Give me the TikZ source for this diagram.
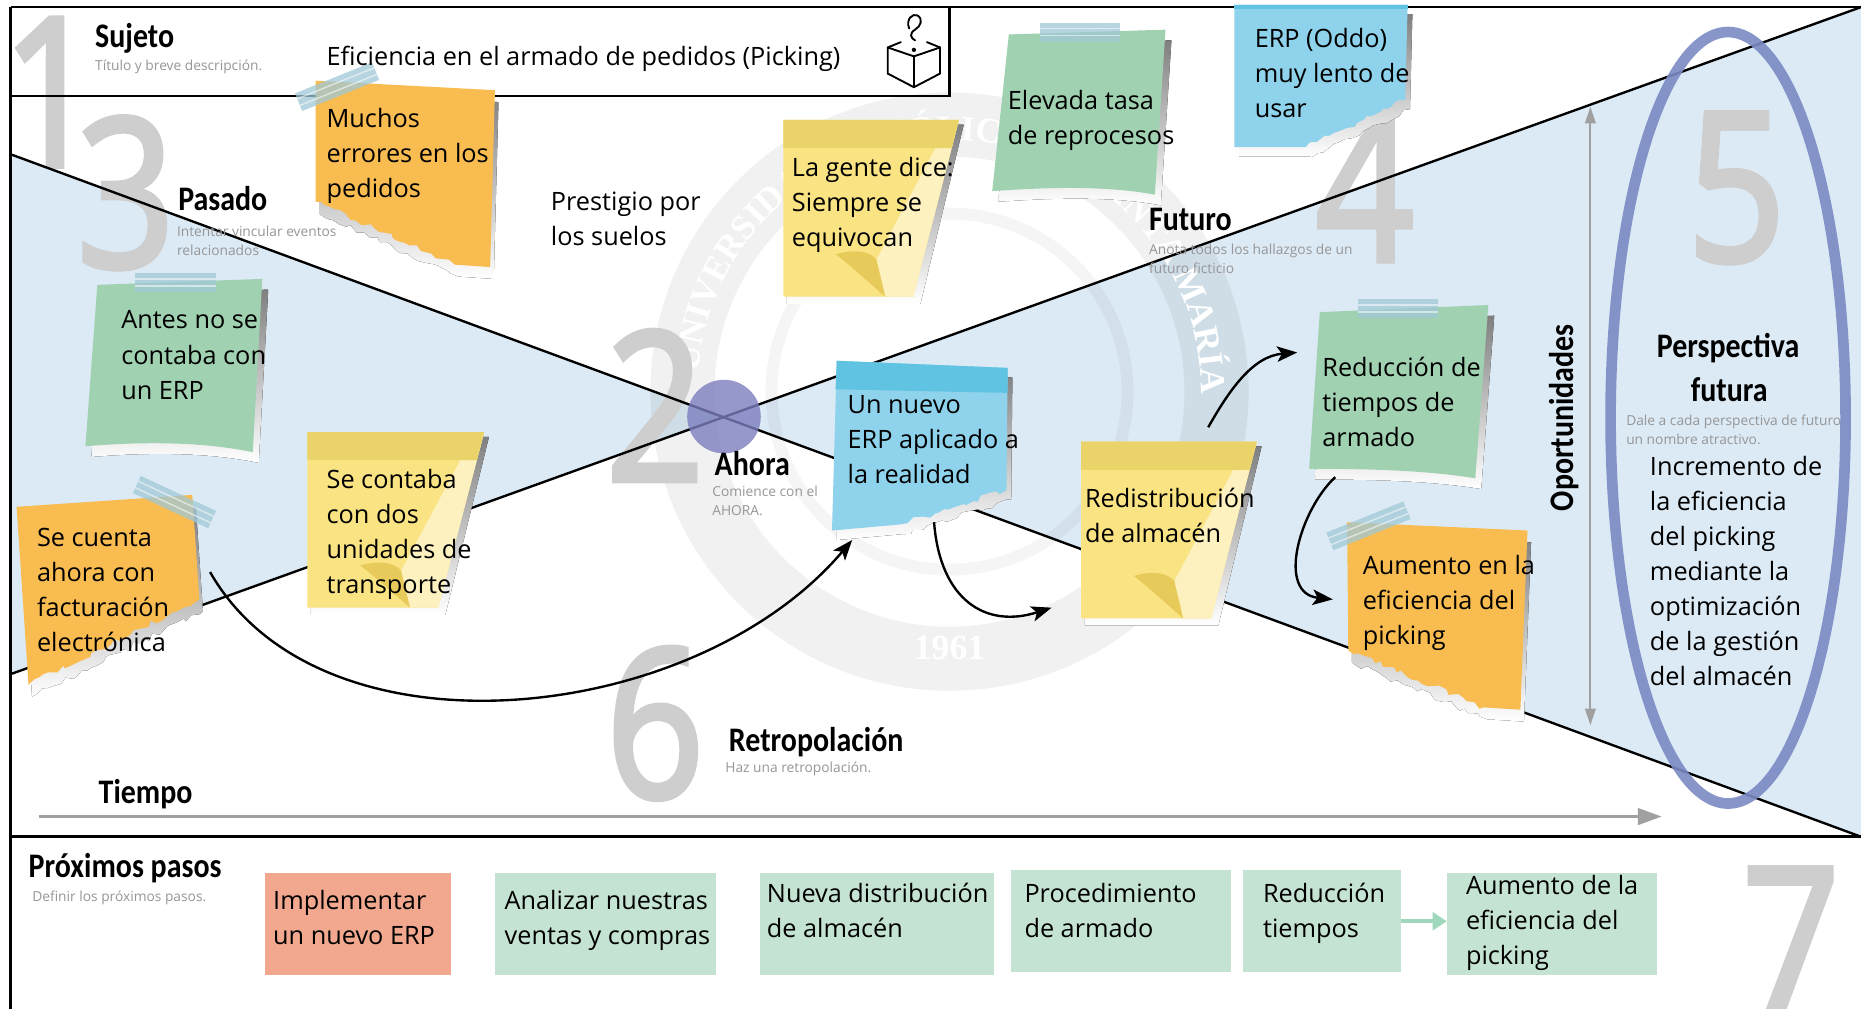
\documentclass[tikz,border=0pt]{standalone}
\usepackage{fontspec}
\setmainfont{Open Sans}
\newfontfamily\headfamily[FakeStretch=0.87]{Carlito}
\newfontfamily\numfamily[FakeStretch=0.82,FakeBold=2.5]{Open Sans}
\newfontfamily\sealfamily{Liberation Serif}
\usetikzlibrary{arrows.meta,decorations.pathmorphing,decorations.text}

\definecolor{skyfill}{RGB}{220,234,245}
\definecolor{numgray}{RGB}{206,206,206}
\definecolor{shade}{RGB}{230,230,230}
\definecolor{notey}{RGB}{250,227,130}
\definecolor{noteyband}{RGB}{234,211,104}
\definecolor{noteypale}{RGB}{253,241,192}
\definecolor{noteycurl}{RGB}{231,202,90}
\definecolor{noteo}{RGB}{249,188,80}
\definecolor{noteg}{RGB}{160,210,178}
\definecolor{noteb}{RGB}{142,210,236}
\definecolor{notebband}{RGB}{96,195,225}
\definecolor{tapec}{RGB}{160,200,214}
\definecolor{ringc}{RGB}{122,138,196}
\definecolor{dotc}{RGB}{124,126,190}
\definecolor{stepred}{RGB}{242,168,142}
\definecolor{stepgreen}{RGB}{197,227,210}
\definecolor{steparrow}{RGB}{160,216,188}
\definecolor{subgray}{RGB}{150,150,150}
\definecolor{axisgray}{RGB}{160,160,160}

\newcommand\firstln{\rule{0pt}{16pt}}
\newcommand\subln{\rule{0pt}{9pt}}
\newcommand\sealfont{\sealfamily\bfseries\fontsize{30}{30}\selectfont}

\tikzset{
  frame/.style={line width=2.2pt, black},
  cross/.style={line width=2pt, black},
  notetext/.style={anchor=north west, inner sep=0pt, align=left,
    font=\fontsize{21.3}{29.5}\selectfont},
  head/.style={anchor=base west, inner sep=0pt,
    font=\headfamily\bfseries\fontsize{29}{30}\selectfont},
  sub/.style={anchor=north west, inner sep=0pt, align=left, text=subgray,
    font=\fontsize{11.6}{16}\selectfont},
  bignum/.style={anchor=base, inner sep=0pt, text=numgray,
    font=\numfamily\fontsize{175}{175}\selectfont},
  flow/.style={line width=2pt, -{Stealth[length=17pt,width=13pt,inset=4pt]}},
  torn/.style={decoration={random steps,segment length=5pt,amplitude=2.5pt}},
  stepbox/.style={anchor=north west, inner sep=0pt, minimum height=86pt},
}

% sticky note with a peeled corner: x, y, width, height
\newcommand\stickyyellow[4]{%
  \begin{scope}[shift={(#1,#2)}]
    \fill[shade] (3,5) -- (#3+4,4) -- ({0.74*#3+6},#4+6) -- (3,#4+6) -- cycle;
    \fill[notey] (0,0) -- (#3,0) -- ({0.74*#3},#4) -- (0,#4) -- cycle;
    \fill[noteypale] (#3,0) -- ({0.74*#3},#4) -- ({0.58*#3},#4)
      -- ({0.53*#3},{0.79*#4}) -- ({0.95*#3},0) -- cycle;
    \fill[noteycurl] ({0.30*#3},{0.76*#4}) .. controls ({0.40*#3},{0.73*#4}) and ({0.49*#3},{0.74*#4})
      .. ({0.53*#3},{0.79*#4}) -- ({0.58*#3},#4)
      .. controls ({0.50*#3},{0.93*#4}) and ({0.40*#3},{0.84*#4}) .. cycle;
    \fill[noteyband] (0,0) -- (#3,0) -- ({#3-0.0416*#3},{0.16*#4}) -- (0,{0.16*#4}) -- cycle;
  \end{scope}}

% strip of adhesive tape: centre x, centre y, angle, length
\newcommand\tapestrip[4]{%
  \begin{scope}[shift={(#1,#2)},rotate=#3]
    \fill[tapec, opacity=0.75] ({-#4/2},-8) rectangle ({#4/2},8);
    \draw[white, opacity=0.55, line width=1.2pt] ({-#4/2},-3) -- ({#4/2},-3) ({-#4/2},3) -- ({#4/2},3);
  \end{scope}}

\begin{document}
\pgfmathsetseed{11}
\begin{tikzpicture}[x=1pt,y=-1pt]
\useasboundingbox (0,0) rectangle (1568,850);
\fill[white] (0,0) rectangle (1568,850);

% past and future wedges
\fill[skyfill] (9,130) -- (610,351) -- (9,568) -- cycle;
\fill[skyfill] (610,351) -- (1568,6) -- (1568,705) -- cycle;

% faint seal in the background
\begin{scope}[shift={(800,330)}, x=1pt, y=1pt]
  \fill[black, opacity=0.055, even odd rule] (0,0) circle[radius=252] (0,0) circle[radius=198];
  \draw[black, opacity=0.04, line width=10pt] (0,0) circle[radius=150];
  \path[decorate, decoration={text along path, text align=center, text color=white,
      text={|\sealfont|UNIVERSIDAD CATÓLICA DE SANTA MARÍA}}]
      (195:212) arc[start angle=195, end angle=-20, radius=212];
  \node[text=white, font=\sealfont, inner sep=0pt] (sealyear) at (0,-216) {1961};
\end{scope}

% section numbers
\node[bignum] (n1) at (43,140) {1};
\node[bignum] (n3) at (106,225) {3};
\node[bignum] (n2) at (552,405) {2};
\node[bignum] (n4) at (1150,220) {4};
\node[bignum] (n5) at (1463,220) {5};
\node[bignum] (n6) at (552,672) {6};
\node[bignum] (n7) at (1509,856) {7};

% crossing horizon lines
\draw[cross] (9,130) -- (1568,705);
\draw[cross] (9,568) -- (1568,6);

% frame
\draw[frame] (9,6) -- (1568,6);
\draw[frame] (9,6) -- (9,850);
\draw[frame] (9,705) -- (1568,705);
\draw[frame] (9,81) -- (800,81) -- (800,6);

% subject icon: box with a question mark
\begin{scope}[line width=1.6pt, line join=round, line cap=round]
  \draw (748,40) -- (770,47.5) -- (792,40) -- (792,62) -- (770,73.5) -- (748,62) -- cycle;
  \draw (770,47.5) -- (770,73.5);
  \draw (748,40) -- (759,35.5);
  \draw (781,35.5) -- (792,40);
  \draw (766,24) .. controls (763,16) and (769,11) .. (773,13)
        .. controls (778,16) and (776,22) .. (771,25)
        .. controls (766,28) and (767,32) .. (771,34);
  \fill (770,42) circle[radius=1.8];
\end{scope}

% green notes
\fill[shade, shift={(5,9)}] (850,29) -- (982,25) -- (973,164) .. controls (930,156) and (880,158) .. (836,161) -- cycle;
\fill[noteg] (850,29) -- (982,25) -- (973,164) .. controls (930,156) and (880,158) .. (836,161) -- cycle;
\tapestrip{910}{27}{0}{67}

\fill[shade, shift={(5,9)}] (82,240) -- (221,235) -- (213,381) .. controls (170,372) and (120,372) .. (72,376) -- cycle;
\fill[noteg] (82,240) -- (221,235) -- (213,381) .. controls (170,372) and (120,372) .. (72,376) -- cycle;
\tapestrip{148}{238}{0}{68}

\fill[shade, shift={(5,9)}] (1112,263) -- (1254,257) -- (1243,403) .. controls (1200,396) and (1150,395) .. (1103,395) -- cycle;
\fill[noteg] (1112,263) -- (1254,257) -- (1243,403) .. controls (1200,396) and (1150,395) .. (1103,395) -- cycle;
\tapestrip{1178}{260}{0}{67}

% orange notes with torn edges
\fill[shade, shift={(3,10)}] (266,68) -- (417,76) -- (413,225) -- (383,223) decorate[torn]{-- (266,170)} -- cycle;
\fill[noteo] (266,68) -- (417,76) -- (413,225) -- (383,223) decorate[torn]{-- (266,170)} -- cycle;
\tapestrip{284}{73}{22}{70}

\fill[shade, shift={(3,10)}] (14,427) -- (162,417) -- (168,505) decorate[torn]{-- (24,577)} -- cycle;
\fill[noteo] (14,427) -- (162,417) -- (168,505) decorate[torn]{-- (24,577)} -- cycle;
\tapestrip{147}{423}{-25}{70}

\fill[shade, shift={(3,10)}] (1135,440) -- (1287,447) -- (1281,598) -- (1250,596) decorate[torn]{-- (1136,548)} -- cycle;
\fill[noteo] (1135,440) -- (1287,447) -- (1281,598) -- (1250,596) decorate[torn]{-- (1136,548)} -- cycle;
\tapestrip{1153}{443}{22}{70}

% blue notes with torn edges
\fill[shade, shift={(4,8)}] (1040,4) -- (1186,4) -- (1184,84) decorate[torn]{-- (1100,124)} -- (1040,124) -- cycle;
\fill[noteb] (1040,4) -- (1186,4) -- (1184,84) decorate[torn]{-- (1100,124)} -- (1040,124) -- cycle;
\fill[notebband] (1040,4) rectangle (1186,8);

\fill[shade, shift={(4,8)}] (705,304) -- (849,310) -- (848,413) decorate[torn]{-- (757,442)} -- (701,447) -- cycle;
\fill[noteb] (705,304) -- (849,310) -- (848,413) decorate[torn]{-- (757,442)} -- (701,447) -- cycle;
\fill[notebband] (705,304) -- (849,310) -- (849,331) -- (704,328) -- cycle;

% yellow notes
\stickyyellow{660}{101}{148}{149}
\stickyyellow{259}{364}{149}{148}
\stickyyellow{911}{372}{148}{149}

% now marker and future perspective ring
\fill[dotc, opacity=0.8] (610,351) circle[radius=31];
\draw[ringc, line width=9pt, opacity=0.9] (1456,352) ellipse[x radius=99, y radius=325];

% axes
\coordinate (t0) at (33,688);
\coordinate (t1) at (1400,688);
\draw[axisgray, line width=2.2pt, -{Triangle[length=20pt,width=14pt]}] (t0) -- (t1);
\coordinate (o0) at (1340,90);
\coordinate (o1) at (1340,611);
\draw[axisgray, line width=1.6pt, {Triangle[length=14pt,width=9pt]}-{Triangle[length=14pt,width=9pt]}] (o0) -- (o1);

% flow arrows
\coordinate (fa0) at (177,482); \coordinate (fa1) at (718,455);
\draw[flow] (fa0) .. controls (270,645) and (585,612) .. (fa1);
\coordinate (fb0) at (787,440); \coordinate (fb1) at (886,512);
\draw[flow] (fb0) .. controls (792,505) and (830,530) .. (fb1);
\coordinate (fc0) at (1018,360); \coordinate (fc1) at (1093,297);
\draw[flow] (fc0) .. controls (1035,330) and (1055,300) .. (fc1);
\coordinate (fd0) at (1125,402); \coordinate (fd1) at (1123,505);
\draw[flow] (fd0) .. controls (1095,430) and (1075,500) .. (fd1);

% headings
\node[head] (hsujeto) at (80,40) {Sujeto};
\node[head] (hpasado) at (150,177) {Pasado};
\node[head] (hahora) at (602,401) {Ahora};
\node[head] (hfuturo) at (968,194) {Futuro};
\node[head] (hretro) at (614,633) {Retropolación};
\node[head] (htiempo) at (83,677) {Tiempo};
\node[head] (hpasos) at (24,739) {Próximos pasos};
\node[head, anchor=base] (hpersp) at (1456,301) {Perspectiva};
\node[head, anchor=base] (hfutura) at (1457,338) {futura};
\node[head, anchor=center, rotate=90] (hoport) at (1318,352) {Oportunidades};

% hints
\node[sub] (ssujeto) at (80,50) {\subln Título y breve descripción.};
\node[sub] (spasado) at (149,190) {\subln Intentar vincular eventos\\relacionados};
\node[sub] (sahora) at (600,409) {\subln Comience con el\\AHORA.};
\node[sub] (sfuturo) at (968,205) {\subln Anota todos los hallazgos de un\\futuro ficticio};
\node[sub] (spersp) at (1370,349) {\subln Dale a cada perspectiva de futuro\\un nombre atractivo.};
\node[sub] (sretro) at (611,642) {\subln Haz una retropolación.};
\node[sub] (spasos) at (27,750) {\subln Definir los próximos pasos.};

% note texts
\node[notetext] (title) at (275,39) {\firstln Eficiencia en el armado de pedidos (Picking)};
\node[notetext] (muchos) at (275,91) {\firstln Muchos\\errores en los\\pedidos};
\node[notetext] (prestigio) at (464,161) {\firstln Prestigio por\\los suelos};
\node[notetext] (gente) at (667,132) {\firstln La gente dice:\\Siempre se\\equivocan};
\node[notetext] (elevada) at (849,76) {\firstln Elevada tasa\\de reprocesos};
\node[notetext] (oddo) at (1057,24) {\firstln ERP (Oddo)\\muy lento de\\usar};
\node[notetext] (antes) at (102,261) {\firstln Antes no se\\contaba con\\un ERP};
\node[notetext] (contaba) at (275,395) {\firstln Se contaba\\con dos\\unidades de\\transporte};
\node[notetext] (cuenta) at (31,444) {\firstln Se cuenta\\ahora con\\facturación\\electrónica};
\node[notetext] (nuevo) at (714,332) {\firstln Un nuevo\\ERP aplicado a\\la realidad};
\node[notetext] (redis) at (914,411) {\firstln Redistribución\\de almacén};
\node[notetext] (reduc) at (1114,301) {\firstln Reducción de\\tiempos de\\armado};
\node[notetext] (aumento) at (1148,468) {\firstln Aumento en la\\eficiencia del\\picking};
\node[notetext] (incremento) at (1390,384) {\firstln Incremento de\\la eficiencia\\del picking\\mediante la\\optimización\\de la gestión\\del almacén};

% next steps
\node[stepbox, fill=stepred, minimum width=157pt] (s1) at (223,735) {};
\node[stepbox, fill=stepgreen, minimum width=186pt] (s2) at (417,735) {};
\node[stepbox, fill=stepgreen, minimum width=197pt] (s3) at (640,735) {};
\node[stepbox, fill=stepgreen, minimum width=185pt] (s4) at (852,733) {};
\node[stepbox, fill=stepgreen, minimum width=133pt] (s5) at (1047,733) {};
\node[stepbox, fill=stepgreen, minimum width=177pt] (s6) at (1219,735) {};
\draw[steparrow, line width=3pt, -{Triangle[length=12pt,width=15pt]}] (s5.east) -- (s5.east -| s6.west);
\node[notetext] (s1t) at (230,750) {\firstln Implementar\\un nuevo ERP};
\node[notetext] (s2t) at (425,750) {\firstln Analizar nuestras\\ventas y compras};
\node[notetext] (s3t) at (646,744) {\firstln Nueva distribución\\de almacén};
\node[notetext] (s4t) at (863,744) {\firstln Procedimiento\\de armado};
\node[notetext] (s5t) at (1064,744) {\firstln Reducción\\tiempos};
\node[notetext] (s6t) at (1235,737) {\firstln Aumento de la\\eficiencia del\\picking};
\end{tikzpicture}
\end{document}
